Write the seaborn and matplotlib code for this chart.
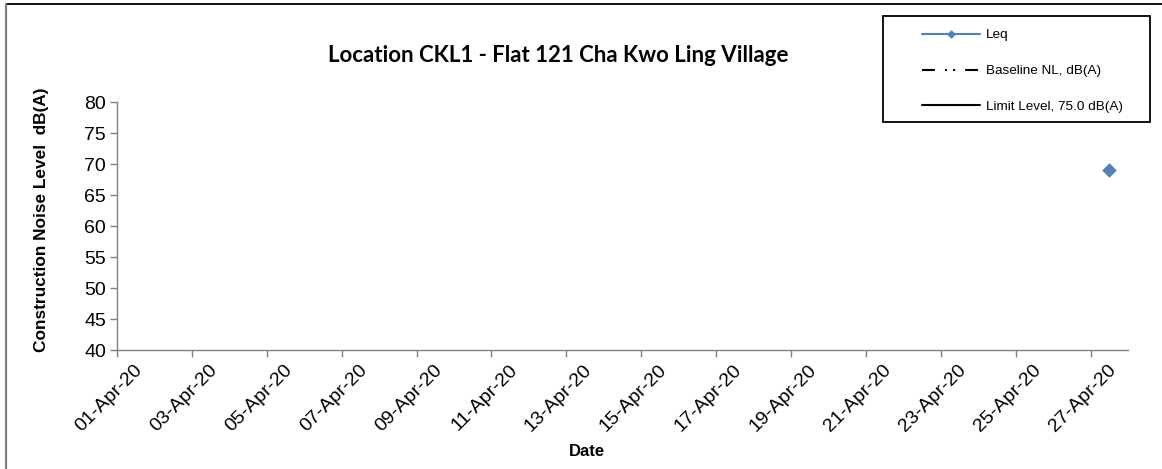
import numpy as np
import pandas as pd
import matplotlib
matplotlib.use("Agg")
import matplotlib.pyplot as plt
import matplotlib.dates as mdates
import matplotlib.transforms as mtransforms
from matplotlib.lines import Line2D
from matplotlib.patches import Rectangle
import seaborn as sns

# ---- data ----
leq_dates = ["2020-04-27 12:00"]
leq_values = [69.0]
baseline_values = []          # no baseline data shown
limit_level = 75.0            # legend only
tick_dates = pd.date_range("2020-04-01", "2020-04-27", freq="2D")
x_start, x_end = "2020-04-01", "2020-04-28"
title = "Location CKL1 - Flat 121 Cha Kwo Ling Village"
ylabel = "Construction Noise Level  dB(A)"
xlabel = "Date"

sns.set_theme(style="white")
plt.rcParams['font.family'] = ['Liberation Sans', 'DejaVu Sans']
plt.rcParams['text.color'] = 'black'

W, H = 1162, 469
fig = plt.figure(figsize=(W / 100, H / 100), dpi=100)
ax = fig.add_axes([117 / W, 1 - 350 / H, (1128 - 117) / W, (350 - 102) / H])

df = pd.DataFrame({"date": pd.to_datetime(leq_dates), "Leq": leq_values})
sns.scatterplot(data=df, x="date", y="Leq", marker="D", s=55, color="#4F81BD",
                edgecolor="#4F81BD", linewidth=0, ax=ax, legend=False, zorder=3)

ax.set_xlim(pd.Timestamp(x_start), pd.Timestamp(x_end))
ax.set_ylim(40, 80)
ax.set_yticks(np.arange(40, 81, 5))
ax.set_xticks(tick_dates)
ax.xaxis.set_major_formatter(mdates.DateFormatter("%d-%b-%y"))
ax.tick_params(axis="both", labelsize=14, labelcolor="black", length=5, width=1,
               direction="out", bottom=True, left=True, pad=3, color="#808080")
offset = mtransforms.ScaledTranslation(17 / 100, 0 / 100, fig.dpi_scale_trans)
for lab in ax.get_xticklabels():
    lab.set_rotation(45)
    lab.set_ha("right")
    lab.set_rotation_mode("anchor")
    lab.set_transform(lab.get_transform() + offset)
for s in ["top", "right"]:
    ax.spines[s].set_visible(False)
for s in ["left", "bottom"]:
    ax.spines[s].set_color("#808080")
    ax.spines[s].set_linewidth(1)
ax.set_xlabel("")
ax.set_ylabel("")
ax.grid(False)

fig.text(558 / W, 1 - 55 / H, title, ha="center", va="center",
         fontsize=16, fontweight="bold", family=["Lato", "DejaVu Sans"])
fig.text(42 / W, 1 - 220 / H, ylabel, ha="center", va="center",
         rotation=90, fontsize=12.4, fontweight="bold")
fig.text(587 / W, 1 - 451 / H, xlabel, ha="center", va="center",
         fontsize=12, fontweight="bold")

handles = [
    Line2D([], [], color="#4F81BD", lw=1.5, marker="D", markersize=3.5),
    Line2D([], [], color="black", lw=1.5, dashes=(6.2, 4.8, 1, 2.9, 1, 4.8)),
    Line2D([], [], color="black", lw=1.5),
]
labels = ["Leq", "Baseline NL, dB(A)", "Limit Level, %.1f dB(A)" % limit_level]
leg = fig.legend(handles, labels, loc="upper left",
                 bbox_to_anchor=(922 / W, 1 - 29 / H),
                 frameon=False, fontsize=9.7,
                 handlelength=4.3, labelspacing=1.74, borderpad=0, handletextpad=0.45,
                 borderaxespad=0)

# legend box
fig.patches.append(Rectangle((883 / W, 1 - 122 / H), (1150 - 883) / W, (122 - 16) / H,
                             transform=fig.transFigure, fill=False,
                             edgecolor="black", lw=1.3, zorder=5))
# outer chart border (top and left visible)
fig.add_artist(Line2D([6 / W, 1], [1 - 4 / H, 1 - 4 / H], transform=fig.transFigure,
                      color="black", lw=1.3))
fig.add_artist(Line2D([5.5 / W, 5.5 / W], [0, 1 - 4 / H], transform=fig.transFigure,
                      color="#808080", lw=1.6))

fig.savefig("out.png", dpi=100)
